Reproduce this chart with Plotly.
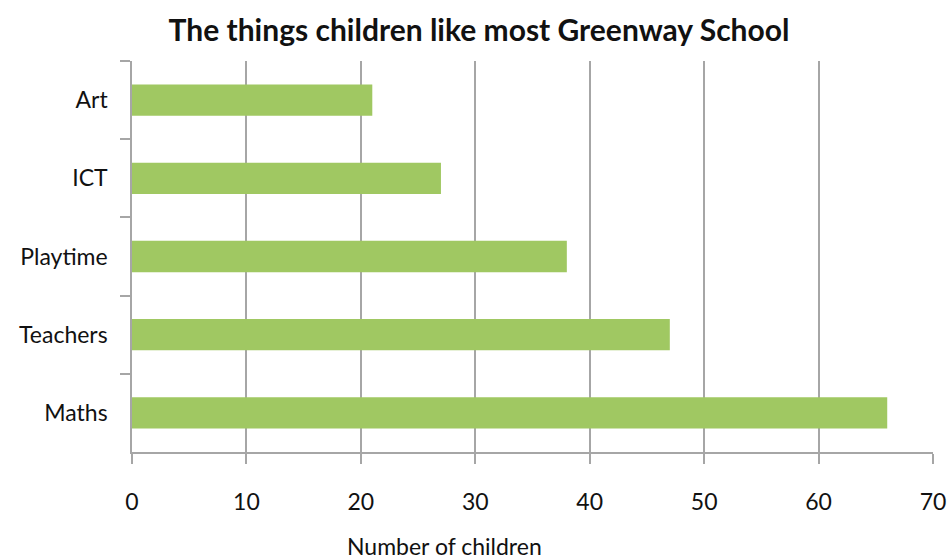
import plotly.graph_objects as go

categories = ["Art", "ICT", "Playtime", "Teachers", "Maths"]
values = [21, 27, 38, 47, 66]
x_ticks = [0, 10, 20, 30, 40, 50, 60, 70]

FONT = "Lato"
GRID = "#A6A6A6"

fig = go.Figure(go.Bar(
    x=values, y=categories, orientation="h",
    marker=dict(color="#A0C862", line=dict(width=0)),
    width=0.4,
))

W, H = 948, 559
L, R, T, B = 132, 15, 61, 107

fig.update_layout(
    width=W, height=H,
    margin=dict(l=L, r=R, t=T, b=B),
    paper_bgcolor="white", plot_bgcolor="white",
    showlegend=False,
    font=dict(family=FONT, color="#111111"),
    title=dict(text="<b>The things children like most Greenway School</b>",
               x=479 / W, xanchor="center", y=1 - 30 / H, yanchor="middle",
               font=dict(family=FONT, size=30, color="#111111")),
)
fig.update_xaxes(
    range=[0, 70], tickvals=x_ticks, ticktext=[str(v) for v in x_ticks],
    showgrid=True, gridcolor=GRID, gridwidth=1.5,
    showline=True, linecolor=GRID, linewidth=1.5,
    ticks="outside", ticklen=10, tickcolor=GRID, tickwidth=1.5,
    ticklabelstandoff=19,
    tickfont=dict(family=FONT, size=23, color="#111111"),
    zeroline=False, mirror=False, automargin=False,
)
fig.update_yaxes(
    categoryorder="array", categoryarray=categories, autorange="reversed",
    showline=True, linecolor=GRID, linewidth=1.5,
    ticks="outside", ticklen=10, tickcolor=GRID, tickwidth=1.5,
    tickson="boundaries", ticklabelstandoff=18,
    tickfont=dict(family=FONT, size=23, color="#111111"),
    showgrid=False, automargin=False,
)
fig.add_annotation(
    text="Number of children", xref="paper", yref="paper",
    x=(444 - L) / (W - L - R), y=(452 - 546) / (H - T - B),
    xanchor="center", yanchor="middle", showarrow=False,
    font=dict(family=FONT, size=23, color="#111111"),
)

fig.write_html("out.html", config={"displayModeBar": False},
               post_script="document.body.style.margin='0';document.body.style.overflow='hidden';")
